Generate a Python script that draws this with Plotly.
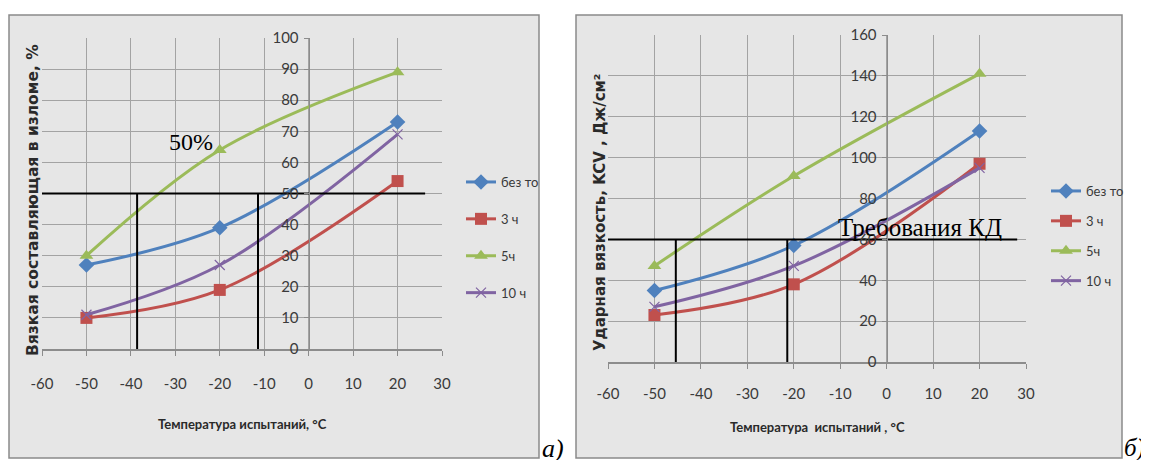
import plotly.graph_objects as go

# page body has an 8px margin; the figure is laid out in screen pixels minus that offset
OFF = 8
W, H = 1141, 452

temps = [-50, -20, 20]
series_names = ["без то", "3 ч", "5ч", "10 ч"]
colors = ["#4f81bd", "#c0504d", "#9bbb59", "#8064a2"]
symbols = ["diamond", "square", "triangle-up", "x-thin"]

# Chart a) – ductile fraction in fracture, %
a_bez = [27, 39, 73]
a_3h = [10, 19, 54]
a_5h = [30, 64, 89]
a_10h = [11, 27, 69]

# Chart б) – impact toughness KCV, J/cm²
b_bez = [35, 57, 113]
b_3h = [23, 38, 97]
b_5h = [47, 91, 141]
b_10h = [27, 47, 95]

# reference lines
a_level = 50
a_cross = [-38.6, -11.4]
a_hline_x = [-63.6, 26.2]
b_level = 60
b_cross = [-45.4, -21.4]
b_hline_x = [-63.9, 28.1]
v_bottom = -1

x_ticks = list(range(-60, 31, 10))
x_ticktext = [str(v) for v in x_ticks]

NARROW = "Lato, Roboto, sans-serif"
TICK_FONT = dict(family=NARROW, size=15, color="#3a3a3a")
LEG_FONT = dict(family=NARROW, size=13, color="#3a3a3a")
GRID = "#a3a3a3"
AXL = "#8c8c8c"


def px_x(p):
    return (p - OFF) / W


def px_y(p):
    return 1 - (p - OFF) / H


fig = go.Figure()

panels = [
    dict(xa="x", ya="y", xk="xaxis", yk="yaxis", legend="legend",
         data=[a_bez, a_3h, a_5h, a_10h], xdom=[px_x(42), px_x(442)], ydom=[px_y(349), px_y(38)],
         yrange=[0, 100], dtick=10, level=a_level, cross=a_cross, hx=a_hline_x,
         xstand=15, leg=dict(x=px_x(461), y=px_y(167), gap=17)),
    dict(xa="x2", ya="y2", xk="xaxis2", yk="yaxis2", legend="legend2",
         data=[b_bez, b_3h, b_5h, b_10h], xdom=[px_x(608), px_x(1026)], ydom=[px_y(362), px_y(35)],
         yrange=[0, 160], dtick=20, level=b_level, cross=b_cross, hx=b_hline_x,
         xstand=12, leg=dict(x=px_x(1046), y=px_y(176), gap=10)),
]

for p in panels:
    for name, vals, c, s in zip(series_names, p["data"], colors, symbols):
        fig.add_trace(go.Scatter(
            x=temps, y=vals, name=name, mode="lines+markers",
            line=dict(color=c, width=3, shape="spline", smoothing=1.0),
            marker=dict(symbol=s, size=12 if s != "x-thin" else 10, color=c,
                        line=dict(color=c, width=1.2 if s == "x-thin" else 0)),
            xaxis=p["xa"], yaxis=p["ya"], legend=p["legend"], legendgroup=p["legend"] + name,
            cliponaxis=False,
        ))
    fig.add_trace(go.Scatter(
        x=p["hx"], y=[p["level"], p["level"]], mode="lines",
        line=dict(color="black", width=2), showlegend=False, cliponaxis=False,
        xaxis=p["xa"], yaxis=p["ya"], hoverinfo="skip"))
    for cx in p["cross"]:
        fig.add_trace(go.Scatter(
            x=[cx, cx], y=[p["level"], v_bottom], mode="lines",
            line=dict(color="black", width=2), showlegend=False, cliponaxis=False,
            xaxis=p["xa"], yaxis=p["ya"], hoverinfo="skip"))

    xd = p["xdom"]
    y_axis_pos = xd[0] + (0 - (-60)) / 90 * (xd[1] - xd[0])
    fig.layout[p["xk"]] = dict(
        domain=xd, range=[-60, 30], tickvals=x_ticks, ticktext=x_ticktext, anchor=p["ya"],
        showgrid=True, gridcolor=GRID, gridwidth=1, zeroline=False,
        showline=True, linecolor=AXL, linewidth=1.5,
        ticks="outside", ticklen=5, tickcolor=AXL,
        tickfont=TICK_FONT, ticklabelstandoff=p["xstand"], fixedrange=True, automargin=False,
    )
    fig.layout[p["yk"]] = dict(
        domain=p["ydom"], range=p["yrange"], dtick=p["dtick"], anchor="free",
        position=y_axis_pos,
        showgrid=True, gridcolor=GRID, gridwidth=1, zeroline=False,
        showline=True, linecolor=AXL, linewidth=1.2,
        ticks="outside", ticklen=5, tickcolor=AXL,
        tickfont=TICK_FONT, ticklabelstandoff=2, fixedrange=True, automargin=False,
    )
    fig.layout[p["legend"]] = dict(
        x=p["leg"]["x"], y=p["leg"]["y"], xanchor="left", yanchor="top",
        bgcolor="rgba(0,0,0,0)", font=LEG_FONT, tracegroupgap=p["leg"]["gap"],
        itemwidth=30, traceorder="grouped",
    )

shapes = [
    dict(type="rect", xref="paper", yref="paper", x0=px_x(9), x1=px_x(539), y0=px_y(458), y1=px_y(15),
         fillcolor="#e6e6e6", line=dict(color="#8a8a8a", width=1.5), layer="below"),
    dict(type="rect", xref="paper", yref="paper", x0=px_x(576), x1=px_x(1122), y0=px_y(458), y1=px_y(15),
         fillcolor="#e6e6e6", line=dict(color="#8a8a8a", width=1.5), layer="below"),
]

TITLE_X_FONT = dict(family="Lato, Roboto, sans-serif", size=13, color="#2a2a2a", weight="bold")
TITLE_Y_FONT = dict(family="DejaVu Sans, Verdana, sans-serif", size=15, color="#2a2a2a", weight="bold")
SERIF = "Liberation Serif, Times New Roman, serif"


def ann(**kw):
    d = dict(showarrow=False, xanchor="center", yanchor="middle")
    d.update(kw)
    return d


annotations = [
    ann(text="Температура испытаний, °С", xref="paper", yref="paper", x=px_x(242), y=px_y(424), font=TITLE_X_FONT),
    ann(text="Температура  испытаний , °С", xref="paper", yref="paper", x=px_x(817), y=px_y(427), font=TITLE_X_FONT),
    ann(text="Вязкая составляющая в изломе, %", xref="paper", yref="paper", x=px_x(33), y=px_y(200),
        textangle=-90, font=dict(TITLE_Y_FONT, size=15.5)),
    ann(text="Ударная вязкость, KCV , Дж/см²", xref="paper", yref="paper", x=px_x(600), y=px_y(213),
        textangle=-90, font=TITLE_Y_FONT),
    ann(text="50%", xref="x", yref="y", x=-26.5, y=66.5, font=dict(family=SERIF, size=24, color="black")),
    ann(text="Требования КД", xref="x2", yref="y2", x=7.2, y=66, font=dict(family=SERIF, size=25, color="black")),
    ann(text="а)", xref="paper", yref="paper", x=px_x(553), y=px_y(448),
        font=dict(family=SERIF, size=26, color="black", style="italic")),
    ann(text="б)", xref="paper", yref="paper", x=px_x(1134), y=px_y(448), xanchor="center",
        font=dict(family=SERIF, size=25, color="black", style="italic")),
]

fig.update_layout(
    width=W, height=H, margin=dict(l=0, r=0, t=0, b=0, autoexpand=False),
    paper_bgcolor="white", plot_bgcolor="rgba(0,0,0,0)",
    shapes=shapes, annotations=annotations, hovermode=False,
)

fig.write_html("out.html")
